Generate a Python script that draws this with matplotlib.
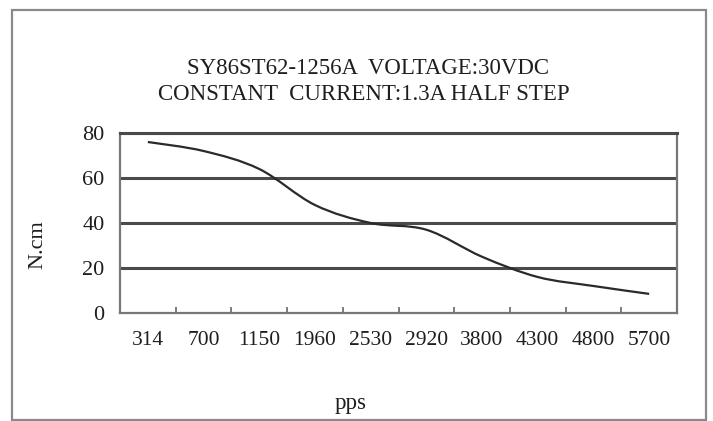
import matplotlib
matplotlib.use("Agg")
import matplotlib.pyplot as plt
from matplotlib.patches import Rectangle, PathPatch
from matplotlib.path import Path

categories = ["314", "700", "1150", "1960", "2530", "2920", "3800", "4300", "4800", "5700"]
torque = [76, 72, 64, 48, 40, 37, 25, 16, 12, 8.5]
yticks = [0, 20, 40, 60, 80]

plt.rcParams['font.family'] = ['Liberation Serif', 'DejaVu Serif']

fig = plt.figure(figsize=(7.13, 4.21), dpi=100)
fig.patch.set_facecolor('white')
fig.add_artist(Rectangle((12/713, 0.002), (706-12)/713, 1 - 0.002 - 10/421,
                         transform=fig.transFigure, fill=False,
                         edgecolor='#8a8a8a', linewidth=1.6))

ax = fig.add_axes([120/713, 1-313/421, (677-120)/713, (313-133)/421])
x = list(range(len(categories)))

# smooth (Catmull-Rom style) line through the data points, drawn in data coords
pts = list(zip(x, torque))
verts = [pts[0]]
codes = [Path.MOVETO]
n = len(pts)
for i in range(n - 1):
    p0 = pts[i - 1] if i > 0 else pts[i]
    p1 = pts[i]
    p2 = pts[i + 1]
    p3 = pts[i + 2] if i + 2 < n else pts[i + 1]
    c1 = (p1[0] + (p2[0] - p0[0]) / 6, p1[1] + (p2[1] - p0[1]) / 6)
    c2 = (p2[0] - (p3[0] - p1[0]) / 6, p2[1] - (p3[1] - p1[1]) / 6)
    verts += [c1, c2, p2]
    codes += [Path.CURVE4, Path.CURVE4, Path.CURVE4]
ax.add_patch(PathPatch(Path(verts, codes), fill=False, edgecolor='#2a2a2a',
                       linewidth=1.6, zorder=3))

ax.set_xlim(-0.5, len(categories) - 0.5)
ax.set_ylim(0, 80)
ax.set_yticks(yticks)
ax.set_yticklabels([str(v) for v in yticks], fontsize=16, color='#1e1e1e')
ax.tick_params(axis='y', length=0, pad=11)
ax.set_xticks(x)
ax.set_xticklabels(categories, fontsize=15.5, color='#1e1e1e')
ax.tick_params(axis='x', which='major', length=0, pad=13)
ax.set_xticks([i + 0.5 for i in range(len(categories) - 1)], minor=True)
ax.tick_params(axis='x', which='minor', direction='in', length=4, color='#666666', width=1.2)
for v in yticks[1:]:
    ax.axhline(v, color='#4a4a4a', linewidth=2.2, zorder=1)
for s in ax.spines.values():
    s.set_color('#777777')
    s.set_linewidth(1.6)
ax.spines['top'].set_color('#4a4a4a')
ax.spines['top'].set_linewidth(2.2)

fig.text(368/713, 1-68/421, "SY86ST62-1256A  VOLTAGE:30VDC", ha='center', va='center', fontsize=16.5, color='#1e1e1e')
fig.text(364/713, 1-94/421, "CONSTANT  CURRENT:1.3A HALF STEP", ha='center', va='center', fontsize=16.5, color='#1e1e1e')
fig.text(38/713, 1-245/421, "N.cm", rotation=90, ha='center', va='center', fontsize=16, color='#1e1e1e')
fig.text(351/713, 1-403/421, "pps", ha='center', va='center', fontsize=16.5, color='#1e1e1e')

fig.savefig("out.png", dpi=100, facecolor='white')
